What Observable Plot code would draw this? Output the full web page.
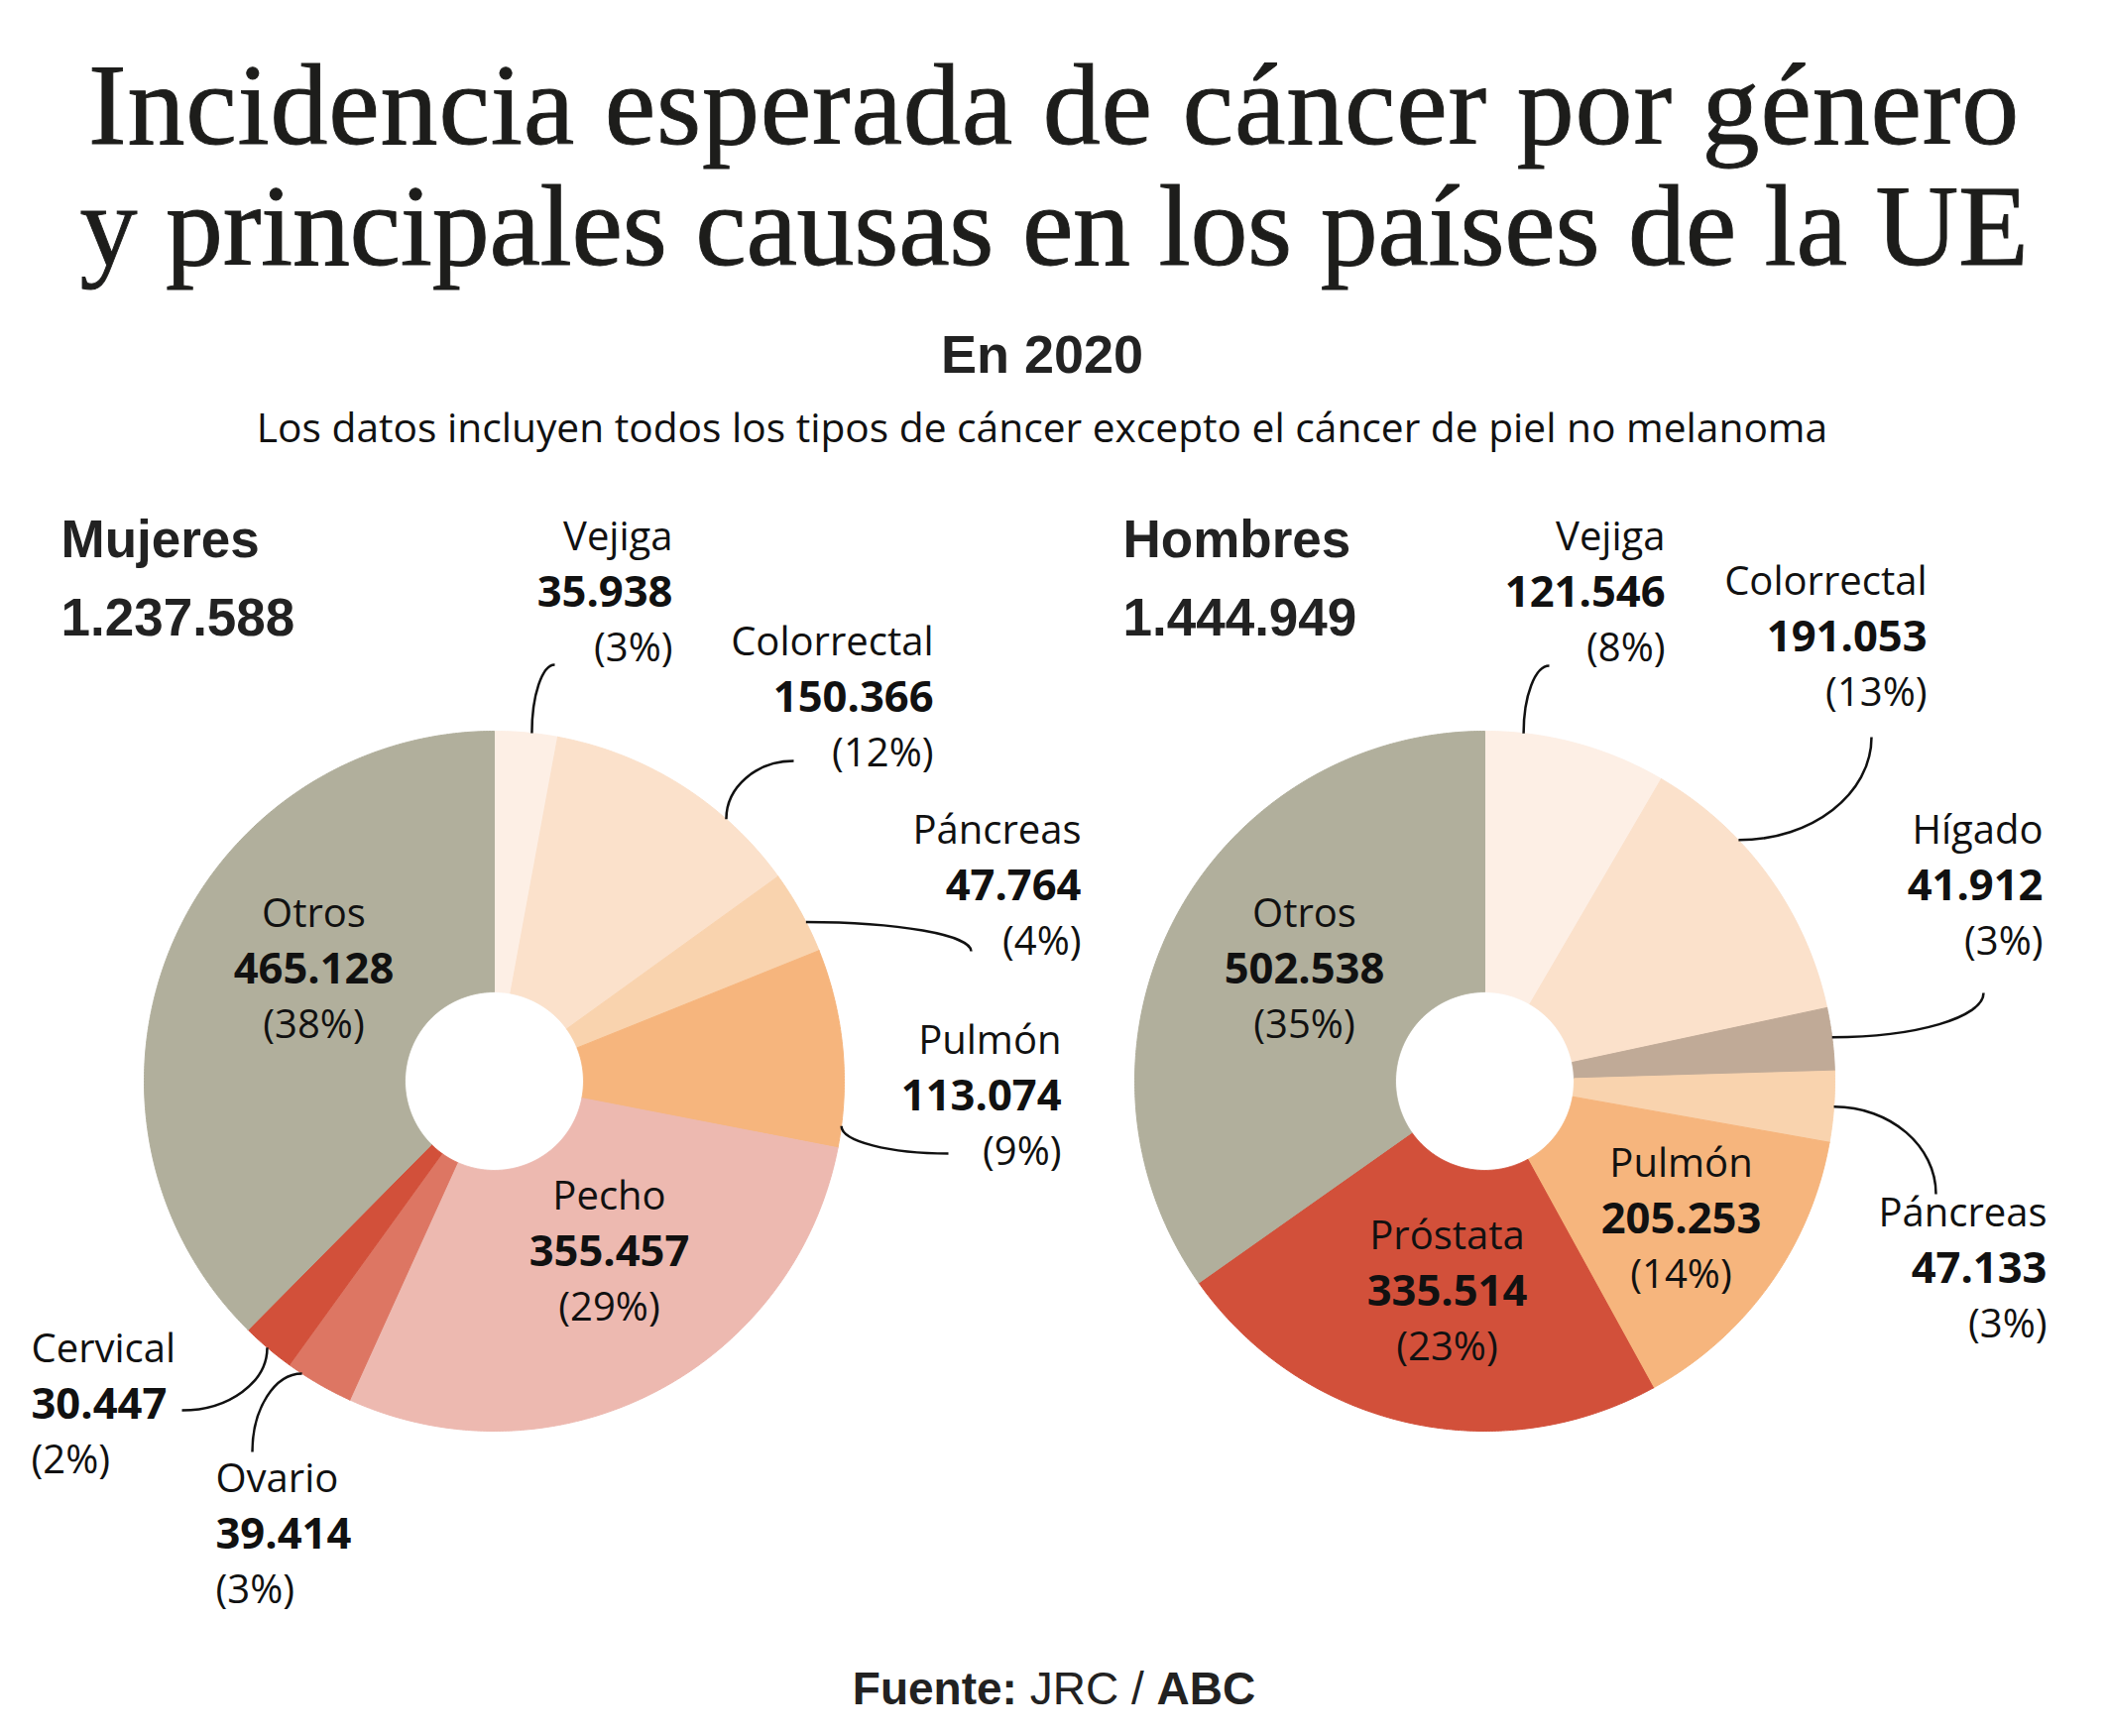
<!DOCTYPE html>
<html>
<head>
<meta charset="utf-8">
<script src="https://cdn.jsdelivr.net/npm/d3@7"></script>
<script src="https://cdn.jsdelivr.net/npm/@observablehq/plot@0.6"></script>
<style>
  html, body { margin: 0; padding: 0; background: #fff; }
  #page { position: relative; width: 2126px; height: 1751px; overflow: hidden; background: #fff; }
  .t { position: absolute; left: 0; width: 2126px; text-align: center; white-space: nowrap; color: #1d1d1b; }
  #title { top: 45px; font-family: "Liberation Serif", serif; font-size: 116px; line-height: 122px; -webkit-text-stroke: 0.9px #1d1d1b; }
  #title .l1 { letter-spacing: 0.8px; }
  #title .l2 { letter-spacing: -0.3px; }
  #year { top: 327px; left: -12px; font-family: "Liberation Sans", Arial, sans-serif; font-weight: bold; font-size: 54px; line-height: 60px; color: #222; }
  #sub { top: 403px; left: -12px; font-family: "Open Sans", sans-serif; font-size: 40.7px; line-height: 54px; color: #111; }
  #source { top: 1677px; font-family: "Liberation Sans", Arial, sans-serif; font-size: 46px; line-height: 52px; color: #222; }
  #chart { position: absolute; left: 0; top: 470px; }
</style>
</head>
<body>
<div id="page">
  <div class="t" id="title"><span class="l1">Incidencia esperada de cáncer por género</span><br><span class="l2">y principales causas en los países de la UE</span></div>
  <div class="t" id="year">En 2020</div>
  <div class="t" id="sub">Los datos incluyen todos los tipos de cáncer excepto el cáncer de piel no melanoma</div>
  <div id="chart"></div>
  <div class="t" id="source"><b>Fuente:</b> JRC / <b>ABC</b></div>
</div>
<script>
// ---------- DATA ----------
const groups = ["Mujeres", "Hombres"];
const groupTotals = [1237588, 1444949];

const mujeresCategories = ["Vejiga", "Colorrectal", "Páncreas", "Pulmón", "Pecho", "Ovario", "Cervical", "Otros"];
const mujeresValues     = [35938, 150366, 47764, 113074, 355457, 39414, 30447, 465128];
const mujeresPercents   = [3, 12, 4, 9, 29, 3, 2, 38];

const hombresCategories = ["Vejiga", "Colorrectal", "Hígado", "Páncreas", "Pulmón", "Próstata", "Otros"];
const hombresValues     = [121546, 191053, 41912, 47133, 205253, 335514, 502538];
const hombresPercents   = [8, 13, 3, 3, 14, 23, 35];

// ---------- STYLE / LAYOUT ----------
const palette = {
  "Vejiga": "#fdefe5", "Colorrectal": "#fbe1cb", "Páncreas": "#f9d3ae", "Pulmón": "#f6b57d",
  "Pecho": "#edb9b0", "Ovario": "#dd7663", "Cervical": "#d2503a", "Próstata": "#d2503a",
  "Hígado": "#c0aa97", "Otros": "#b1af9c"
};
const W = 2126, SVG_TOP = 470, SVG_H = 1210;
const pieGeom = { Mujeres: {cx: 498, cy: 1090}, Hombres: {cx: 1497, cy: 1090} };
const OUTER_R = 353, INNER_R = 90;
const LINE_STEP = 56;
const headerLayout = { Mujeres: {x: 61}, Hombres: {x: 1132}, nameY: 545, totalY: 624 };

// label anchors (page px) and leader-line settings
const labelLayout = [
  {pie: "Mujeres", cat: "Vejiga",      x: 678,  y: 542,  anchor: "end",    t: 0.59, ex: 559,  ey: 670,  bend: "v"},
  {pie: "Mujeres", cat: "Colorrectal", x: 941,  y: 648,  anchor: "end",    t: 0.71, ex: 800,  ey: 767,  bend: "v"},
  {pie: "Mujeres", cat: "Páncreas",    x: 1090, y: 838,  anchor: "end",    t: 0.63, ex: 979,  ey: 959,  bend: "h"},
  {pie: "Mujeres", cat: "Pulmón",      x: 1070, y: 1050, anchor: "end",    t: 0.89, ex: 956,  ey: 1163, bend: "v"},
  {pie: "Mujeres", cat: "Cervical",    x: 31,   y: 1361, anchor: "start",  t: 0.52, ex: 183,  ey: 1422, bend: "v"},
  {pie: "Mujeres", cat: "Ovario",      x: 217,  y: 1492, anchor: "start",  t: 0.78, ex: 254,  ey: 1464, bend: "h"},
  {pie: "Mujeres", cat: "Otros",       x: 316,  y: 922,  anchor: "middle"},
  {pie: "Mujeres", cat: "Pecho",       x: 614,  y: 1207, anchor: "middle"},
  {pie: "Hombres", cat: "Vejiga",      x: 1679, y: 542,  anchor: "end",    t: 0.21, ex: 1562, ey: 671,  bend: "v"},
  {pie: "Hombres", cat: "Colorrectal", x: 1943, y: 587,  anchor: "end",    t: 0.34, ex: 1887, ey: 743,  bend: "h"},
  {pie: "Hombres", cat: "Hígado",      x: 2060, y: 838,  anchor: "end",    t: 0.47, ex: 2000, ey: 1001, bend: "h"},
  {pie: "Hombres", cat: "Páncreas",    x: 2064, y: 1224, anchor: "end",    t: 0.50, ex: 1952, ey: 1204, bend: "h"},
  {pie: "Hombres", cat: "Otros",       x: 1315, y: 922,  anchor: "middle"},
  {pie: "Hombres", cat: "Próstata",    x: 1459, y: 1247, anchor: "middle"},
  {pie: "Hombres", cat: "Pulmón",      x: 1695, y: 1174, anchor: "middle"}
];

// ---------- BUILD ----------
const fmt = d3.formatLocale({decimal: ",", thousands: ".", grouping: [3], currency: ["", "€"]}).format(",d");

const series = {
  Mujeres: mujeresCategories.map((c, i) => ({cat: c, value: mujeresValues[i], pct: mujeresPercents[i]})),
  Hombres: hombresCategories.map((c, i) => ({cat: c, value: hombresValues[i], pct: hombresPercents[i]}))
};
const pieGen = d3.pie().sort(null).value(d => d.value).startAngle(0).endAngle(2 * Math.PI);
const arcs = {};
const polyPts = [];
for (const g of groups) {
  const {cx, cy} = pieGeom[g];
  arcs[g] = pieGen(series[g]);
  for (const a of arcs[g]) {
    const key = g + "|" + a.data.cat;
    const n = Math.max(2, Math.ceil((a.endAngle - a.startAngle) / (Math.PI / 360)));
    const pts = [];
    for (let k = 0; k <= n; k++) {
      const ang = a.startAngle + (a.endAngle - a.startAngle) * k / n;
      pts.push([cx + OUTER_R * Math.sin(ang), cy - OUTER_R * Math.cos(ang)]);
    }
    for (let k = n; k >= 0; k--) {
      const ang = a.startAngle + (a.endAngle - a.startAngle) * k / n;
      pts.push([cx + INNER_R * Math.sin(ang), cy - INNER_R * Math.cos(ang)]);
    }
    pts.push(pts[0]);
    for (const [x, y] of pts) polyPts.push({key, cat: a.data.cat, x, y});
  }
}

const labels = labelLayout.map(l => {
  const a = arcs[l.pie].find(d => d.data.cat === l.cat);
  const {cx, cy} = pieGeom[l.pie];
  let sx = null, sy = null;
  if (l.t != null) {
    const ang = a.startAngle + l.t * (a.endAngle - a.startAngle);
    sx = cx + OUTER_R * Math.sin(ang);
    sy = cy - OUTER_R * Math.cos(ang);
  }
  return {...l, name: a.data.cat, value: fmt(a.data.value), pct: `(${a.data.pct}%)`, sx, sy};
});
const leaders = labels.filter(d => d.t != null);

// quarter-ellipse style leader curve
function cornerCurve(mode) {
  return (context) => {
    let pts = [];
    return {
      areaStart() {}, areaEnd() {},
      lineStart() { pts = []; },
      point(x, y) { pts.push([+x, +y]); },
      lineEnd() {
        if (pts.length < 2) return;
        const [p0, p1] = [pts[0], pts[pts.length - 1]];
        const c = mode === "v" ? [p0[0], p1[1]] : [p1[0], p0[1]];
        const k = 0.5523;
        context.moveTo(p0[0], p0[1]);
        context.bezierCurveTo(
          p0[0] + k * (c[0] - p0[0]), p0[1] + k * (c[1] - p0[1]),
          p1[0] + k * (c[0] - p1[0]), p1[1] + k * (c[1] - p1[1]),
          p1[0], p1[1]);
      }
    };
  };
}

const headers = groups.map((g, i) => ({g, x: headerLayout[g].x, total: fmt(groupTotals[i])}));

const textMarks = [];
const FONT = "Open Sans";
for (const anchor of ["start", "middle", "end"]) {
  const sub = labels.filter(d => d.anchor === anchor);
  textMarks.push(
    Plot.text(sub, {x: "x", y: "y", text: "name", textAnchor: anchor, fontSize: 40, fontFamily: FONT, fill: "#111", lineAnchor: "middle"}),
    Plot.text(sub, {x: "x", y: "y", dy: LINE_STEP, text: "value", textAnchor: anchor, fontSize: 43.5, fontWeight: "bold", fontFamily: FONT, fill: "#111", lineAnchor: "middle"}),
    Plot.text(sub, {x: "x", y: "y", dy: 2 * LINE_STEP, text: "pct", textAnchor: anchor, fontSize: 40, fontFamily: FONT, fill: "#111", lineAnchor: "middle"})
  );
}

const chart = Plot.plot({
  width: W,
  height: SVG_H,
  margin: 0,
  x: {domain: [0, W], range: [0, W], axis: null},
  y: {domain: [SVG_TOP, SVG_TOP + SVG_H], range: [0, SVG_H], axis: null},
  color: {domain: Object.keys(palette), range: Object.values(palette)},
  style: {background: "#fff", overflow: "visible"},
  marks: [
    Plot.line(polyPts, {x: "x", y: "y", z: "key", fill: "cat", stroke: "cat", strokeWidth: 1, curve: "linear"}),
    Plot.link(leaders.filter(d => d.bend === "v"), {x1: "sx", y1: "sy", x2: "ex", y2: "ey", stroke: "#111", strokeWidth: 2.5, curve: cornerCurve("v")}),
    Plot.link(leaders.filter(d => d.bend === "h"), {x1: "sx", y1: "sy", x2: "ex", y2: "ey", stroke: "#111", strokeWidth: 2.5, curve: cornerCurve("h")}),
    ...textMarks,
    Plot.text(headers, {x: "x", y: () => headerLayout.nameY, text: "g", textAnchor: "start", lineAnchor: "middle", fontSize: 53, fontWeight: "bold", fontFamily: "Liberation Sans", fill: "#222"}),
    Plot.text(headers, {x: "x", y: () => headerLayout.totalY, text: "total", textAnchor: "start", lineAnchor: "middle", fontSize: 53, fontWeight: "bold", fontFamily: "Liberation Sans", fill: "#222"})
  ]
});
document.getElementById("chart").appendChild(chart);
</script>
</body>
</html>
